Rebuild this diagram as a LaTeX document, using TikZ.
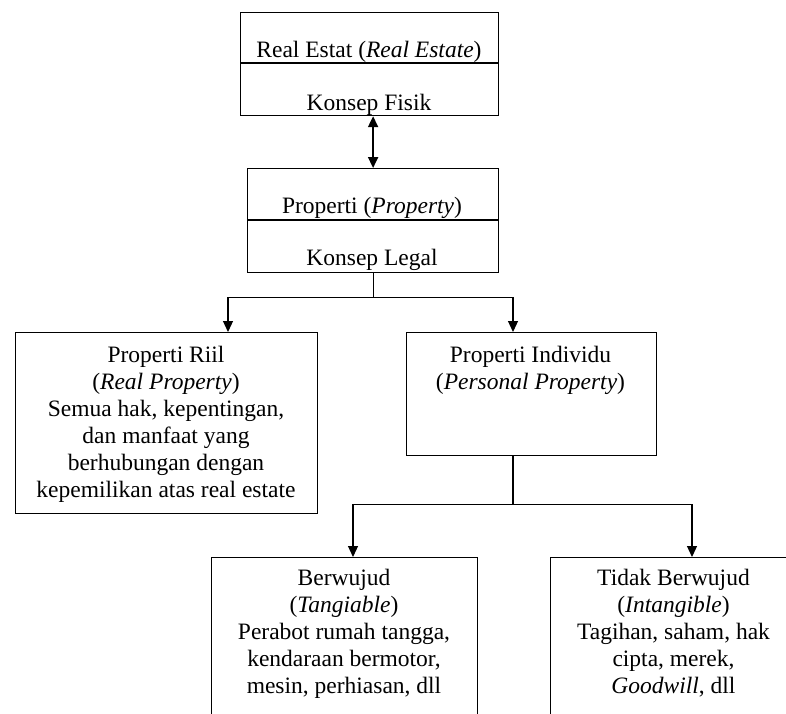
\documentclass[tikz,border=0pt]{standalone}
\usepackage{fontspec}
\setmainfont{Liberation Serif}
\usetikzlibrary{arrows.meta}
\begin{document}
\begin{tikzpicture}[x=1pt,y=-1pt,
  box/.style={draw, line width=1.2pt, inner sep=0pt, anchor=north west},
  lbl/.style={inner sep=0pt, anchor=base, font=\fontsize{23.5}{27}\selectfont},
  conn/.style={line width=1.2pt},
  arr/.style={line width=1.2pt, -{Triangle[length=11pt,width=10pt]}},
  dbl/.style={line width=2pt, {Triangle[length=11pt,width=10pt]}-{Triangle[length=11pt,width=10pt]}}]
\useasboundingbox (0,0) rectangle (786,713);
\clip (0,0) rectangle (786,713);
% boxes
\node[box, minimum width=258pt, minimum height=103pt] (re) at (240,12) {};
\node[box, minimum width=251pt, minimum height=104pt] (pe) at (247,168) {};
\node[box, minimum width=302pt, minimum height=181pt] (riil) at (15,332) {};
\node[box, minimum width=250pt, minimum height=123pt] (ind) at (406,332) {};
\node[box, minimum width=266pt, minimum height=200pt] (wujud) at (211,557) {};
\node[box, minimum width=340pt, minimum height=200pt] (tidak) at (550,557) {};
% dividers
\draw[conn] (re.west |- 0,63) -- (re.east |- 0,63);
\draw[conn] (pe.west |- 0,220) -- (pe.east |- 0,220);
% texts
\node[lbl] (t1) at (369,57) {Real Estat (\textit{Real Estate})};
\node[lbl] (t2) at (369,110) {Konsep Fisik};
\node[lbl] (t3) at (372,213) {Properti (\textit{Property})};
\node[lbl] (t4) at (372,265) {Konsep Legal};
\node[lbl] (t5) at (166,362) {\begin{tabular}[t]{@{}c@{}}Properti Riil\\(\textit{Real Property})\\Semua hak, kepentingan,\\dan manfaat yang\\berhubungan dengan\\kepemilikan atas real estate\end{tabular}};
\node[lbl] (t6) at (530.5,362) {\begin{tabular}[t]{@{}c@{}}Properti Individu\\(\textit{Personal Property})\end{tabular}};
\node[lbl] (t7) at (344,585) {\begin{tabular}[t]{@{}c@{}}Berwujud\\(\textit{Tangiable})\\Perabot rumah tangga,\\kendaraan bermotor,\\mesin, perhiasan, dll\end{tabular}};
\node[lbl] (t8) at (673.5,585) {\begin{tabular}[t]{@{}c@{}}Tidak Berwujud\\(\textit{Intangible})\\Tagihan, saham, hak\\cipta, merek,\\\textit{Goodwill}, dll\end{tabular}};
% connectors
\draw[dbl] (pe.north) -- (pe.north |- re.south);
\coordinate (tA) at (228,332);
\coordinate (tB) at (513,332);
\coordinate (tC) at (353,557);
\coordinate (tD) at (692,557);
\draw[conn] (pe.south) -- ++(0,24) coordinate (j1);
\draw[arr] (j1) -| (tA);
\draw[arr] (j1) -| (tB);
\draw[conn] (ind.south -| tB) -- ++(0,48) coordinate (j2);
\draw[arr] (j2) -| (tC);
\draw[arr] (j2) -| (tD);
\end{tikzpicture}
\end{document}
